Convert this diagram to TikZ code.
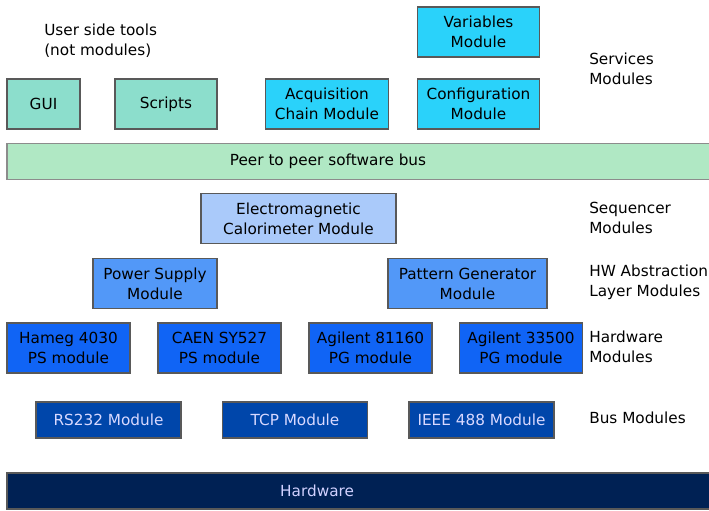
\documentclass[tikz,border=0pt]{standalone}
\usepackage{fontspec}
\setmainfont{DejaVu Sans}

\definecolor{toolcol}{RGB}{140,222,204}
\definecolor{servcol}{RGB}{42,210,250}
\definecolor{buscol}{RGB}{176,232,196}
\definecolor{seqcol}{RGB}{170,202,250}
\definecolor{halcol}{RGB}{82,152,248}
\definecolor{hwcol}{RGB}{16,100,245}
\definecolor{bmodcol}{RGB}{0,70,170}
\definecolor{hwbarcol}{RGB}{0,33,84}

\begin{document}
\begin{tikzpicture}[x=0.72pt,y=-0.72pt,
    box/.style={draw=black!65, line width=0.9pt, align=center, inner sep=0pt,
      minimum height=36pt, font=\fontsize{11}{14.4}\selectfont},
    tool/.style={box, fill=toolcol},
    service/.style={box, fill=servcol, minimum width=88.2pt},
    seqmod/.style={box, fill=seqcol},
    halmod/.style={box, fill=halcol},
    hwmod/.style={box, fill=hwcol, minimum width=88.4pt},
    busmod/.style={box, fill=bmodcol, text=white!85!blue, minimum width=104.4pt,
      minimum height=25.9pt},
    bar/.style={box, minimum width=506.9pt, minimum height=26pt},
    layer/.style={anchor=west, align=left, inner sep=0pt,
      font=\fontsize{11}{14.4}\selectfont}]
  \useasboundingbox (0,0) rectangle (709,510);

  % user side tools and services
  \node[layer] (usertxt) at (44,41) {User side tools\\(not modules)};
  \node[tool, minimum width=52.6pt] (gui) at (43.5,104) {GUI};
  \node[tool, minimum width=73.4pt] (scripts) at (166,104) {Scripts};
  \node[service] (acq) at (327,104) {Acquisition\\Chain Module};
  \node[service] (conf) at (478.5,104) {Configuration\\Module};
  \node[service] (var) at (478.5,32) {Variables\\Module};
  \node[layer] (servtxt) at (589,69) {Services\\Modules};

  % software bus
  \node[bar, fill=buscol, draw=black!45,
    label={[xshift=-22.3pt, font=\fontsize{11}{14.4}\selectfont]center:Peer to peer software bus}]
    (bus) at (359,161.5) {};

  % sequencer and abstraction layer
  \node[seqmod, minimum width=140.4pt] (ecal) at (298.5,218.5)
    {Electromagnetic\\Calorimeter Module};
  \node[layer] (seqtxt) at (589,218) {Sequencer\\Modules};
  \node[halmod, minimum width=89.3pt] (psu) at (155,283.5) {Power Supply\\Module};
  \node[halmod, minimum width=114.5pt] (pgen) at (467.5,283.5)
    {Pattern Generator\\Module};
  \node[layer] (haltxt) at (589,282.5) {HW Abstraction\\Layer Modules};

  % hardware modules
  \node[hwmod] (hameg) at (68.5,348) {Hameg 4030\\PS module};
  \node[hwmod] (caen) at (219.5,348) {CAEN SY527\\PS module};
  \node[hwmod] (ag81) at (370.5,348) {Agilent 81160\\PG module};
  \node[hwmod] (ag33) at (521,348) {Agilent 33500\\PG module};
  \node[layer] (hwtxt) at (589,347) {Hardware\\Modules};

  % bus modules
  \node[busmod] (rs232) at (108.5,420) {RS232 Module};
  \node[busmod] (tcp) at (295,420) {TCP Module};
  \node[busmod] (ieee) at (481.5,420) {IEEE 488 Module};
  \node[layer] (bustxt) at (589,418) {Bus Modules};

  % hardware
  \node[bar, fill=hwbarcol, minimum height=25.9pt,
    label={[xshift=-30.2pt, text=white!82!blue, font=\fontsize{11}{14.4}\selectfont]center:Hardware}]
    (hw) at (359,491) {};
\end{tikzpicture}
\end{document}
